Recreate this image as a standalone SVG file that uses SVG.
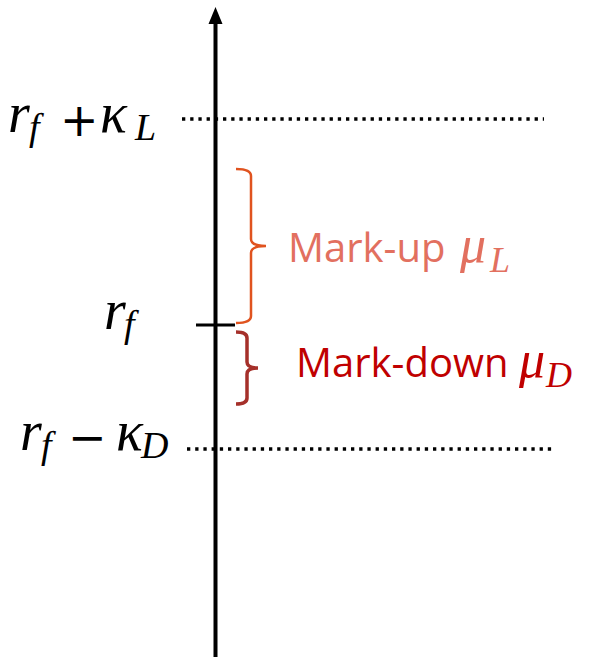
<svg xmlns="http://www.w3.org/2000/svg" width="598" height="657" viewBox="0 0 598 657">
<defs>
<style>
.math{font-family:"Liberation Serif","Times New Roman",serif;font-style:italic}
.op{font-family:"DejaVu Sans",sans-serif;fill:#000}
.dot{stroke:#000;stroke-width:3.3;stroke-dasharray:3.3 4.9;fill:none}
.lbl{font-family:"Open Sans","Liberation Sans",sans-serif;font-size:40px}
</style>
</defs>
<rect width="598" height="657" fill="#fff"/>
<g id="connectors">
<line x1="215.5" y1="657" x2="215.5" y2="22" stroke="#000" stroke-width="4"/>
<path d="M208.5,24 L215.5,7 L222.5,24 Z" fill="#000"/>
</g>
<g id="upper-line">
<line class="dot" x1="182" y1="119" x2="544" y2="119"/>
<text class="math" font-size="56" fill="#000"><tspan x="8" y="132">r</tspan><tspan x="29" y="140" font-size="38">f</tspan></text>
<text class="op" font-size="46" x="60" y="136">+</text>
<text class="math" font-size="56" fill="#000"><tspan x="100" y="132">κ</tspan><tspan x="135" y="140" font-size="38">L</tspan></text>
</g>
<g id="rf-tick">
<line x1="196" y1="325" x2="235" y2="325" stroke="#000" stroke-width="3"/>
<text class="math" font-size="56" fill="#000"><tspan x="104" y="329">r</tspan><tspan x="124" y="337" font-size="38">f</tspan></text>
</g>
<g id="lower-line">
<line class="dot" x1="187" y1="449" x2="552" y2="449"/>
<text class="math" font-size="56" fill="#000"><tspan x="20" y="450">r</tspan><tspan x="41" y="458" font-size="38">f</tspan></text>
<text class="op" font-size="46" x="68" y="453">−</text>
<text class="math" font-size="56" fill="#000"><tspan x="116" y="450">κ</tspan><tspan x="141" y="458" font-size="38">D</tspan></text>
</g>
<g id="markup">
<path d="M236,169 Q251,169 251,176 L251,239 Q251,246 266,246 Q251,246 251,253 L251,316 Q251,323 236,323" fill="none" stroke="#E0531F" stroke-width="2.5"/>
<text class="lbl" x="288" y="262" fill="#E2705F">Mark-up</text>
<text class="math" font-size="52" fill="#E2705F"><tspan x="460" y="262">μ</tspan><tspan x="490" y="272" font-size="36">L</tspan></text>
</g>
<g id="markdown">
<path d="M236,332 Q247,332 247,338 L247,362 Q247,368 258,368 Q247,368 247,374 L247,398 Q247,404 236,404" fill="none" stroke="#A5302A" stroke-width="3.5"/>
<text class="lbl" x="296" y="377" fill="#C00000">Mark-down</text>
<text class="math" font-size="52" fill="#C00000"><tspan x="519" y="377">μ</tspan><tspan x="546" y="387" font-size="36">D</tspan></text>
</g>
</svg>
